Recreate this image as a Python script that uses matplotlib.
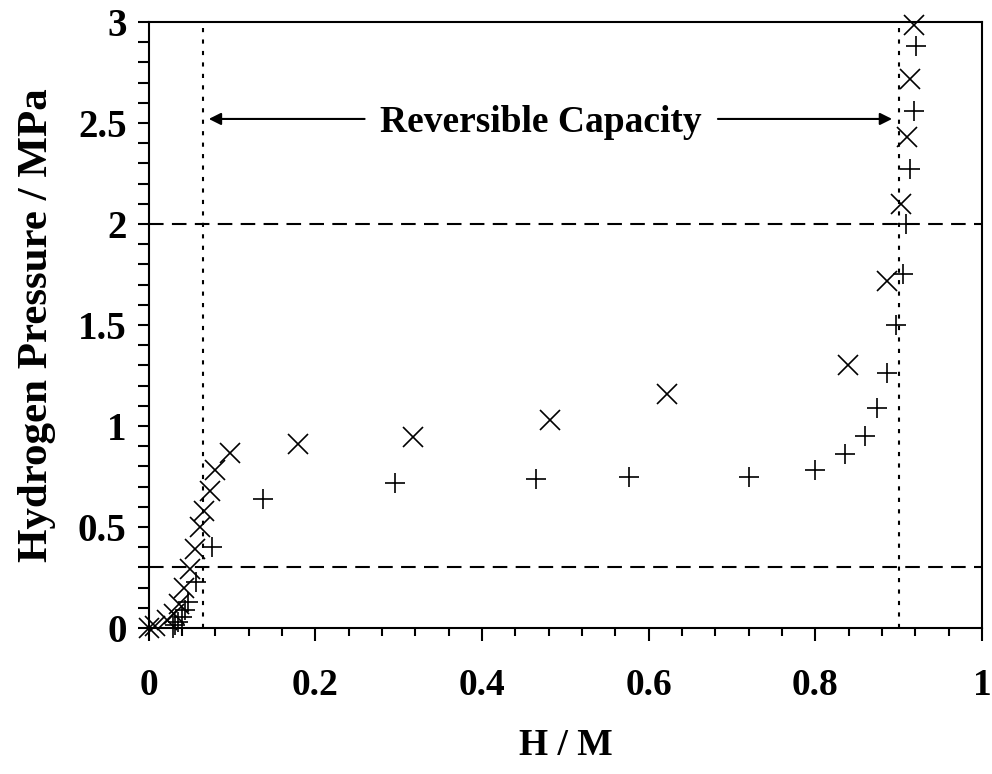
import matplotlib
matplotlib.use("Agg")
import matplotlib.pyplot as plt
from matplotlib.ticker import MultipleLocator

plt.rcParams['font.family'] = ['Liberation Serif', 'DejaVu Serif']
plt.rcParams['font.weight'] = 'bold'

# absorption (x markers)
x_abs = [0.0, 0.008, 0.022, 0.030, 0.036, 0.042, 0.050, 0.055, 0.061, 0.066,
         0.073, 0.079, 0.097, 0.179, 0.317, 0.481, 0.622, 0.839, 0.886, 0.903,
         0.910, 0.914, 0.918]
p_abs = [0.0, 0.01, 0.04, 0.07, 0.12, 0.20, 0.29, 0.39, 0.50, 0.58,
         0.68, 0.78, 0.866, 0.91, 0.946, 1.03, 1.16, 1.30, 1.72, 2.10,
         2.43, 2.72, 2.985]

# desorption (+ markers)
x_des = [0.921, 0.918, 0.914, 0.909, 0.905, 0.897, 0.886, 0.874, 0.860, 0.835,
         0.800, 0.720, 0.576, 0.465, 0.295, 0.137, 0.076, 0.057, 0.047, 0.043,
         0.040, 0.035, 0.031, 0.029]
p_des = [2.88, 2.56, 2.27, 2.00, 1.75, 1.50, 1.26, 1.09, 0.95, 0.86,
         0.78, 0.75, 0.75, 0.74, 0.72, 0.64, 0.40, 0.23, 0.13, 0.09,
         0.055, 0.03, 0.015, 0.0]

cap_lo, cap_hi = 0.065, 0.900
p_lo, p_hi = 0.30, 2.0

fig = plt.figure(figsize=(9.92, 7.74), dpi=100)
ax = fig.add_axes([0.150, 0.1886, 0.840, 0.783])

ax.plot(x_abs, p_abs, linestyle='none', marker='x', color='black',
        markersize=14, markeredgewidth=1.2, clip_on=False, zorder=3)
ax.plot(x_des, p_des, linestyle='none', marker='+', color='black',
        markersize=15, markeredgewidth=1.2, clip_on=False, zorder=3)

for xv in (cap_lo, cap_hi):
    ax.axvline(xv, color='black', lw=1.5, linestyle=(0, (2, 3.5)), zorder=1)
for yv in (p_lo, p_hi):
    ax.axhline(yv, color='black', lw=1.5, linestyle=(0, (7, 4)), zorder=1)

ax.text(0.471, 2.50, 'Reversible Capacity', ha='center', va='center',
        fontsize=27, fontweight='bold')
arrow = dict(arrowstyle='-|>', color='black', lw=1.5, mutation_scale=18,
             shrinkA=0, shrinkB=0)
ax.annotate('', xy=(0.072, 2.52), xytext=(0.259, 2.52), arrowprops=arrow)
ax.annotate('', xy=(0.892, 2.52), xytext=(0.683, 2.52), arrowprops=arrow)

ax.set_xlim(0, 1)
ax.set_ylim(0, 3)
ax.xaxis.set_major_locator(MultipleLocator(0.2))
ax.xaxis.set_minor_locator(MultipleLocator(0.04))
ax.yaxis.set_major_locator(MultipleLocator(0.5))
ax.yaxis.set_minor_locator(MultipleLocator(0.1))
ax.set_xticks([0, 0.2, 0.4, 0.6, 0.8, 1.0])
ax.set_xticklabels(['0', '0.2', '0.4', '0.6', '0.8', '1'])
ax.set_yticks([0, 0.5, 1, 1.5, 2, 2.5, 3])
ax.set_yticklabels(['0', '0.5', '1', '1.5', '2', '2.5', '3'])

ax.tick_params(axis='x', which='major', direction='out', length=9, width=1.5,
               pad=20, labelsize=27)
ax.tick_params(axis='x', which='minor', direction='out', length=6, width=1.5)
ax.tick_params(axis='y', which='both', direction='out', length=8, width=1.5,
               pad=8, labelsize=28)
for s in ax.spines.values():
    s.set_linewidth(1.5)

ax.set_xlabel('H / M', fontsize=27, fontweight='bold', labelpad=18)
ax.set_ylabel('Hydrogen Pressure / MPa', fontsize=31, fontweight='bold', labelpad=16)

fig.savefig('out.png', dpi=100)
